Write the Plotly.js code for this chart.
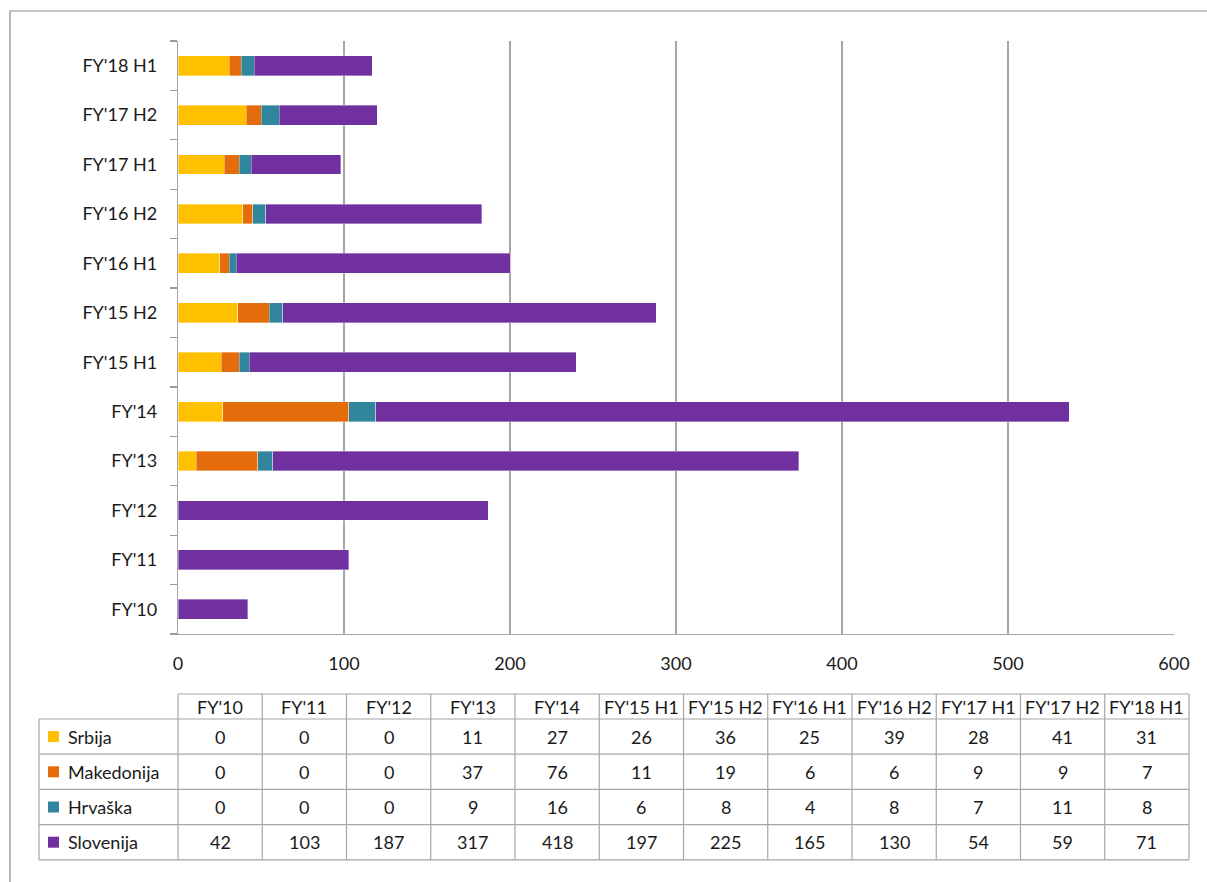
<!DOCTYPE html>
<html>
<head>
<meta charset="utf-8">
<script src="https://cdn.plot.ly/plotly-3.0.1.min.js"></script>
<style>html,body{margin:0;padding:0;background:#fff;}#chart{width:1207px;height:882px;}</style>
</head>
<body>
<div id="chart"></div>
<script>
var categories = ["FY'10","FY'11","FY'12","FY'13","FY'14","FY'15 H1","FY'15 H2","FY'16 H1","FY'16 H2","FY'17 H1","FY'17 H2","FY'18 H1"];
var seriesNames = ["Srbija","Makedonija","Hrvaška","Slovenija"];
var srbija     = [0,0,0,11,27,26,36,25,39,28,41,31];
var makedonija = [0,0,0,37,76,11,19,6,6,9,9,7];
var hrvaska    = [0,0,0,9,16,6,8,4,8,7,11,8];
var slovenija  = [42,103,187,317,418,197,225,165,130,54,59,71];
var xTicks = [0,100,200,300,400,500,600];

var colors = ["#FFC000","#E46C0A","#31859C","#7030A0"];
var seriesValues = [srbija, makedonija, hrvaska, slovenija];

var W = 1207, H = 882;
function px(x){ return x / W; }
function py(y){ return 1 - y / H; }
var FONT = "Lato, 'Open Sans', sans-serif";
var FS = 18;
var TXT = "#1a1a1a";
var GRID = "#A6A6A6";

var traces = seriesNames.map(function(n, i){
  return {
    type: "bar", orientation: "h", name: n,
    y: categories, x: seriesValues[i],
    width: 0.4,
    marker: {color: colors[i], line: {color: "rgba(255,255,255,0.6)", width: 0.6}},
    hoverinfo: "x+name"
  };
});

var shapes = [];
var annotations = [];

// outer frame (left & top visible)
shapes.push({type:"rect", xref:"paper", yref:"paper", x0:px(10), x1:1.05, y0:-0.05, y1:py(11),
  line:{color:"#8C8C8C", width:1.2}, fillcolor:"rgba(0,0,0,0)", layer:"below"});

// data table
var tLeft = 39, tColStart = 178, tRight = 1189;
var tHeadTop = 694, tHeadBot = 719, rowH = 35.2;
var nCols = categories.length;
var colW = (tRight - tColStart) / nCols;
var nRows = seriesNames.length;
var tBottom = tHeadBot + nRows * rowH;
var lineStyle = {color:"#A6A6A6", width:1.2};

shapes.push({type:"line", xref:"paper", yref:"paper", x0:px(tColStart), x1:px(tRight), y0:py(tHeadTop), y1:py(tHeadTop), line:lineStyle});
for (var r = 0; r <= nRows; r++) {
  var yy = tHeadBot + r * rowH;
  shapes.push({type:"line", xref:"paper", yref:"paper", x0:px(tLeft), x1:px(tRight), y0:py(yy), y1:py(yy), line:lineStyle});
}
shapes.push({type:"line", xref:"paper", yref:"paper", x0:px(tLeft), x1:px(tLeft), y0:py(tHeadBot), y1:py(tBottom), line:lineStyle});
for (var c = 0; c <= nCols; c++) {
  var xx = tColStart + c * colW;
  shapes.push({type:"line", xref:"paper", yref:"paper", x0:px(xx), x1:px(xx), y0:py(tHeadTop), y1:py(tBottom), line:lineStyle});
}
categories.forEach(function(cat, c){
  annotations.push({xref:"paper", yref:"paper", x:px(tColStart + (c + 0.5) * colW), y:py((tHeadTop + tHeadBot) / 2),
    text:cat, showarrow:false, xanchor:"center", yanchor:"middle", font:{family:FONT, size:FS, color:TXT}});
});
seriesNames.forEach(function(n, r){
  var yc = tHeadBot + (r + 0.5) * rowH;
  shapes.push({type:"rect", xref:"paper", yref:"paper", x0:px(48), x1:px(59), y0:py(yc - 5.5), y1:py(yc + 5.5),
    fillcolor:colors[r], line:{width:0}});
  annotations.push({xref:"paper", yref:"paper", x:px(66), y:py(yc), text:n, showarrow:false,
    xanchor:"left", yanchor:"middle", font:{family:FONT, size:FS, color:TXT}});
  seriesValues[r].forEach(function(v, c){
    annotations.push({xref:"paper", yref:"paper", x:px(tColStart + (c + 0.5) * colW), y:py(yc),
      text:String(v), showarrow:false, xanchor:"center", yanchor:"middle", font:{family:FONT, size:FS, color:TXT}});
  });
});

var layout = {
  width: W, height: H,
  margin: {l:0, r:0, t:0, b:0},
  paper_bgcolor: "#fff", plot_bgcolor: "#fff",
  barmode: "stack",
  showlegend: false,
  font: {family: FONT, size: FS, color: TXT},
  xaxis: {
    domain: [px(178), px(1174)],
    range: [0, 600],
    tickvals: xTicks,
    ticktext: xTicks.map(String),
    showgrid: true, gridcolor: GRID, gridwidth: 1.2,
    zeroline: false,
    showline: true, linecolor: GRID, linewidth: 1.2,
    ticks: "", ticklabelstandoff: 13,
    tickfont: {family: FONT, size: FS, color: TXT},
    fixedrange: true
  },
  yaxis: {
    domain: [py(634), py(41)],
    type: "category",
    categoryorder: "array", categoryarray: categories,
    tickson: "boundaries",
    ticks: "outside", ticklen: 7, tickcolor: "#999999", tickwidth: 1.2,
    showline: true, linecolor: GRID, linewidth: 1.2,
    showgrid: false, zeroline: false,
    ticklabelstandoff: 16,
    tickfont: {family: FONT, size: FS, color: TXT},
    fixedrange: true
  },
  shapes: shapes,
  annotations: annotations
};

Plotly.newPlot("chart", traces, layout, {displayModeBar: false, staticPlot: true});
</script>
</body>
</html>
